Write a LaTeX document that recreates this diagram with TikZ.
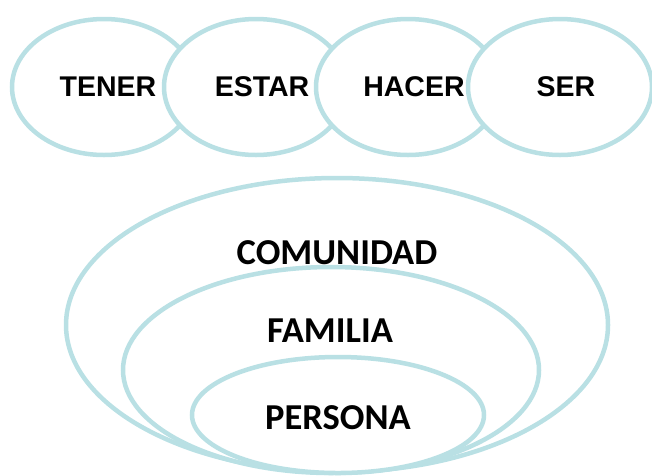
\documentclass[tikz,border=0pt]{standalone}
\usepackage{fontspec}
\newfontfamily\arialfont{Liberation Sans}
\newfontfamily\calibrifont{Carlito}
\usepackage{tikz}
\definecolor{ringblue}{RGB}{185,224,228}

\begin{document}
\begin{tikzpicture}[x=1pt, y=-1pt,
    ring/.style={draw=ringblue, line width=4.5pt, fill=white},
    verb/.style={font=\arialfont\bfseries\fontsize{28.5}{30}\selectfont},
    level/.style={font=\calibrifont\bfseries\fontsize{36.5}{40}\selectfont}]
                \useasboundingbox (0,0) rectangle (652,475);
                \begin{scope}
                \clip (0,0) rectangle (652,475);
%
                \draw [ring] (104,87) ellipse [x radius=92, y radius=68];
                \draw [ring] (256,87) ellipse [x radius=92, y radius=68];
                \draw [ring] (408,87) ellipse [x radius=92, y radius=68];
                \draw [ring] (560,87) ellipse [x radius=92, y radius=68];
%
                \draw [ring] (337,325) ellipse [x radius=271, y radius=147];
                \draw [ring] (331,370) ellipse [x radius=208, y radius=103];
                \draw [ring] (338,415) ellipse [x radius=146, y radius=58];
                \end{scope}
%
                \node [verb] (tener) at (108,87) {TENER};
                \node [verb] (estar) at (262,87) {ESTAR};
                \node [verb] (hacer) at (414,87) {HACER};
                \node [verb] (ser) at (566,87) {SER};
%
                \node [level] (comunidad) at (337,253) {COMUNIDAD};
                \node [level] (familia) at (330,331) {FAMILIA};
                \node [level] (persona) at (338,418) {PERSONA};
            \end{tikzpicture}
\end{document}
